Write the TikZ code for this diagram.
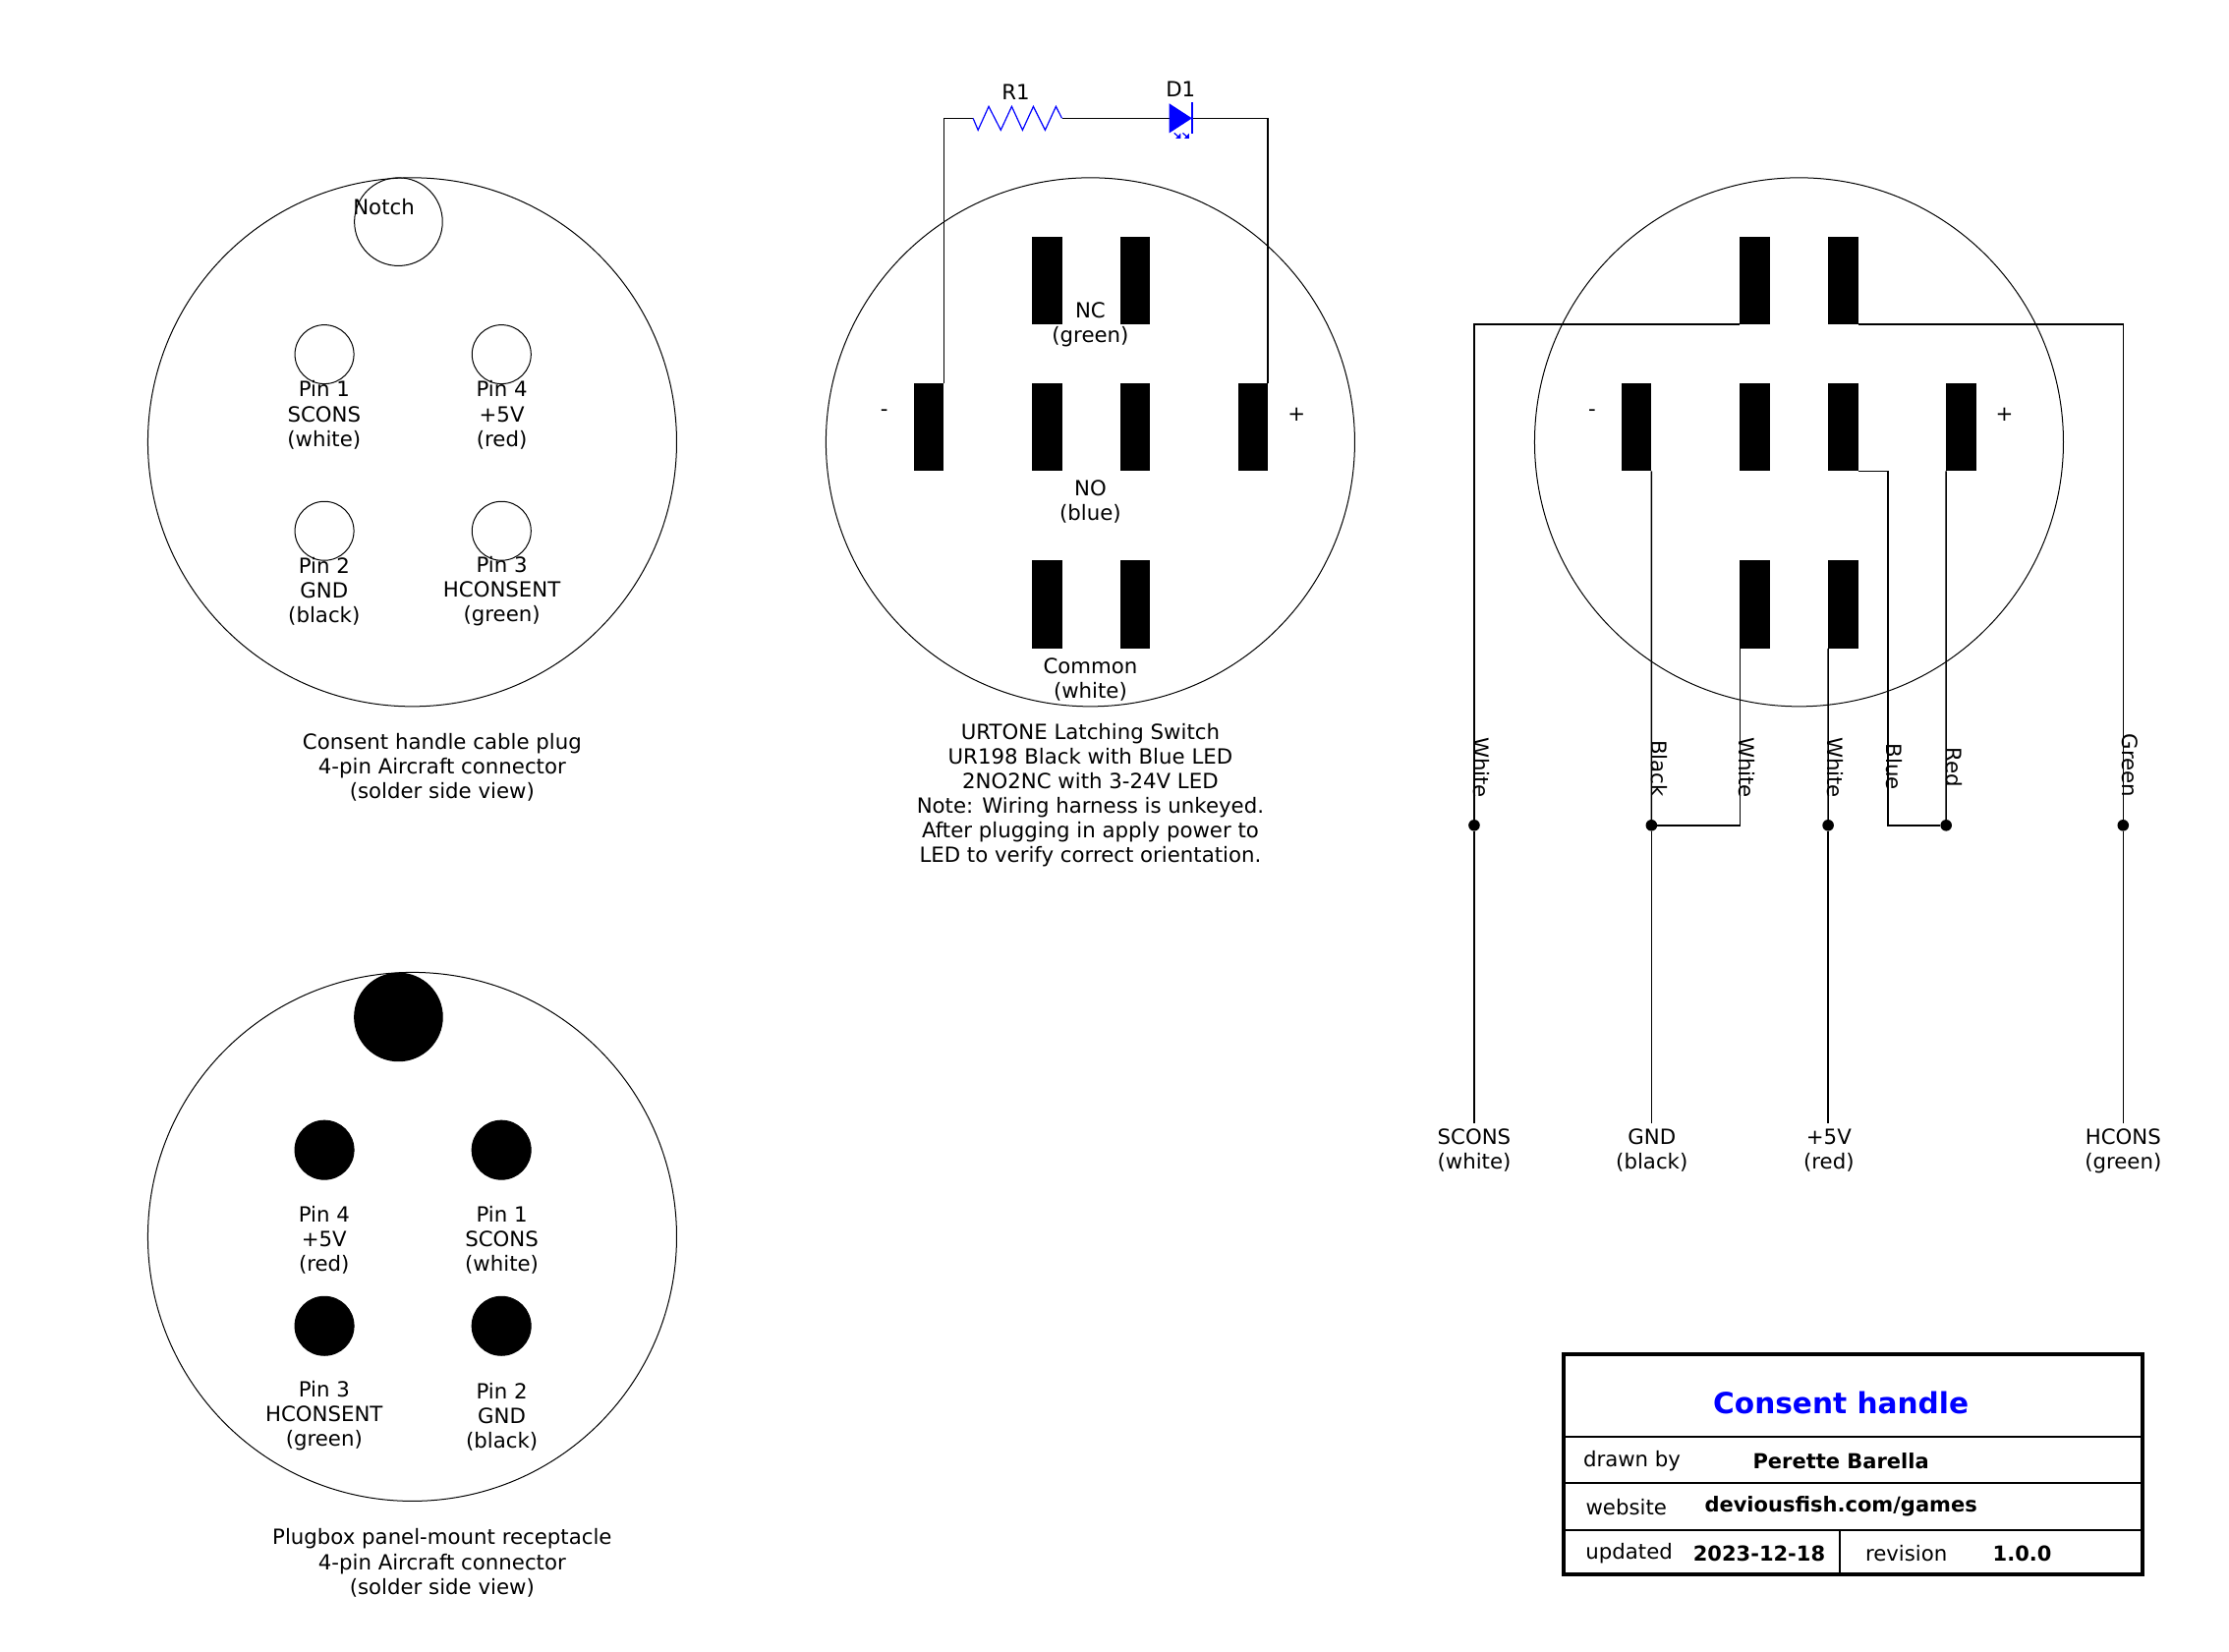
\documentclass[tikz,border=0pt]{standalone}
\usepackage{fontspec}
\setmainfont{DejaVu Sans}
\tikzset{
	connector/.style={circle, draw, line width=0.25pt, inner sep=0pt, outer sep=0pt, minimum size=134.5pt},
	notch/.style={circle, draw, line width=0.25pt, inner sep=0pt, outer sep=0pt, minimum size=22.4pt},
	hole/.style={circle, draw, line width=0.25pt, inner sep=0pt, outer sep=0pt, minimum size=15pt},
	solid notch/.style={notch, fill=black},
	solid hole/.style={hole, fill=black},
	terminal/.style={rectangle, fill=black, inner sep=0pt, outer sep=0pt, minimum width=7.6pt, minimum height=22.4pt},
	junction/.style={circle, fill=black, inner sep=0pt, outer sep=0pt, minimum size=2.9pt},
	wire/.style={line width=0.38pt},
	txt/.style={inner sep=0pt, align=center, font=\fontsize{5.32}{6.28}\selectfont},
	boldtxt/.style={txt, font=\fontsize{5.25}{6.28}\selectfont\bfseries},
	wirelabel/.style={txt, rotate=-90},
	part/.style={line width=0.3pt, blue}
}
\begin{document}
\begin{tikzpicture}[x=0.3616pt, y=-0.3616pt]
	  \useasboundingbox (0,0) rectangle (1568,1161.6);

	  \node [ connector ] (plug) at (290,311) {};
	  \node [ notch ] (plugnotch) at (280.3,156) {};
	  \node [ hole ] (plugpin1) at (228.2,249.3) {};
	  \node [ hole ] (plugpin4) at (352.8,249.3) {};
	  \node [ hole ] (plugpin2) at (228.2,373.5) {};
	  \node [ hole ] (plugpin3) at (352.8,373.5) {};
	  \node [ txt ] (plugnotchtxt) at (270,145.5) {Notch};
	  \node [ txt ] (plugpin1txt) at (228,292) {Pin 1\\SCONS\\(white)};
	  \node [ txt ] (plugpin4txt) at (353,292) {Pin 4\\+5V\\(red)};
	  \node [ txt ] (plugpin2txt) at (228,416) {Pin 2\\GND\\(black)};
	  \node [ txt ] (plugpin3txt) at (353,416) {Pin 3\\HCONSENT\\(green)};
	  \node [ txt ] (plugtxt) at (311,540) {Consent handle cable plug\\4-pin Aircraft connector\\(solder side view)};

	  \node [ connector ] (recept) at (290,870) {};
	  \node [ solid notch ] (receptnotch) at (280.3,715.5) {};
	  \node [ solid hole ] (receptpin4) at (228.2,809) {};
	  \node [ solid hole ] (receptpin1) at (352.7,809) {};
	  \node [ solid hole ] (receptpin3) at (228.2,932.8) {};
	  \node [ solid hole ] (receptpin2) at (352.7,932.8) {};
	  \node [ txt ] (receptpin4txt) at (228,872.5) {Pin 4\\+5V\\(red)};
	  \node [ txt ] (receptpin1txt) at (353,872.5) {Pin 1\\SCONS\\(white)};
	  \node [ txt ] (receptpin3txt) at (228,996) {Pin 3\\HCONSENT\\(green)};
	  \node [ txt ] (receptpin2txt) at (353,997) {Pin 2\\GND\\(black)};
	  \node [ txt ] (recepttxt) at (311,1099.5) {Plugbox panel-mount receptacle\\4-pin Aircraft connector\\(solder side view)};

	  \node [ connector ] (switch) at (767,311) {};
	  \node [ terminal ] (nc1) at (736.5,197.3) {};
	  \node [ terminal ] (nc2) at (798.7,197.3) {};
	  \node [ terminal ] (ledminus) at (653.5,300.5) {};
	  \node [ terminal ] (no1) at (736.5,300.5) {};
	  \node [ terminal ] (no2) at (798.7,300.5) {};
	  \node [ terminal ] (ledplus) at (881.5,300.5) {};
	  \node [ terminal ] (com1) at (736.5,425.3) {};
	  \node [ terminal ] (com2) at (798.7,425.3) {};
	  \node [ txt ] (nctxt) at (767,228.5) {NC\\(green)};
	  \node [ txt ] (notxt) at (767,353) {NO\\(blue)};
	  \node [ txt ] (comtxt) at (767,478) {Common\\(white)};
	  \node [ txt ] (minustxt) at (622,290.5) {-};
	  \node [ txt ] (plustxt) at (912,291.5) {+};
	  \node [ txt ] (switchtxt) at (767,559.5) {URTONE Latching Switch\\UR198 Black with Blue LED\\2NO2NC with 3-24V LED\\Note: Wiring harness is unkeyed.\\After plugging in apply power to\\LED to verify correct orientation.};

	  \coordinate (r1in) at (684.5,83.2);
	  \coordinate (r1out) at (747,83.2);
	  \coordinate (d1in) at (822.5,83.2);
	  \coordinate (d1out) at (838.5,83.2);
	  \draw [ wire ] (ledminus.north east) |- (r1in);
	  \draw [ wire ] (r1out) -- (d1in);
	  \draw [ wire ] (d1out) -| (ledplus.north east);
	  \draw [ part ] (r1in) -- (688,91.5) -- (695.5,74.9) -- (704,91.5) -- (711.7,74.9) -- (719.3,91.5) -- (726.9,74.9) -- (735.2,91.5) -- (742.8,74.9) -- (r1out);
	  \fill [ blue ] (822.5,72.8) -- (d1out) -- (822.5,93.6) -- cycle;
	  \draw [ blue, line width=0.45pt ] (838.8,72) -- (838.8,94);
	  \draw [ blue, line width=0.3pt ] (826,93.6) -- (829.5,96.6);
	  \fill [ blue ] (830.5,97.4) -- (830.5,93.8) -- (827,97.4) -- cycle;
	  \draw [ blue, line width=0.3pt ] (832,93.6) -- (835.5,96.6);
	  \fill [ blue ] (836.5,97.4) -- (836.5,93.8) -- (833,97.4) -- cycle;
	  \node [ txt ] (r1txt) at (714.5,65) {R1};
	  \node [ txt ] (d1txt) at (830.5,63) {D1};

	  \node [ connector ] (harness) at (1265.5,311) {};
	  \node [ terminal ] (ht1) at (1234.5,197.3) {};
	  \node [ terminal ] (ht2) at (1296.5,197.3) {};
	  \node [ terminal ] (hm1) at (1151.2,300.5) {};
	  \node [ terminal ] (hm2) at (1234.5,300.5) {};
	  \node [ terminal ] (hm3) at (1296.5,300.5) {};
	  \node [ terminal ] (hm4) at (1379.5,300.5) {};
	  \node [ terminal ] (hb1) at (1234.5,425.3) {};
	  \node [ terminal ] (hb2) at (1296.5,425.3) {};
	  \node [ txt ] (hminustxt) at (1120,290.5) {-};
	  \node [ txt ] (hplustxt) at (1410,291.5) {+};

	  \node [ junction ] (jscons) at (1037,580.6) {};
	  \node [ junction ] (jgnd) at (1161.71,580.6) {};
	  \node [ junction ] (jfive) at (1285.99,580.6) {};
	  \node [ junction ] (jred) at (1368.99,580.6) {};
	  \node [ junction ] (jhcons) at (1493.5,580.6) {};
	  \coordinate (endscons) at (1037,790);
	  \coordinate (endgnd) at (1161.71,790);
	  \coordinate (endfive) at (1285.99,790);
	  \coordinate (endhcons) at (1493.5,790);
	  \coordinate (bluebend) at (1328,331.5);

	  \draw [ wire ] (ht1.south west) -| (jscons);
	  \draw [ wire ] (jscons) -- (endscons);
	  \draw [ wire ] (ht2.south east) -| (jhcons);
	  \draw [ wire ] (jhcons) -- (endhcons);
	  \draw [ wire ] (hm1.south east) -- (jgnd);
	  \draw [ wire ] (jgnd) -- (endgnd);
	  \draw [ wire ] (hb1.south west) |- (jgnd);
	  \draw [ wire ] (hb2.south west) -- (jfive);
	  \draw [ wire ] (jfive) -- (endfive);
	  \draw [ wire ] (hm3.south east) -| (bluebend);
	  \draw [ wire ] (bluebend) |- (jred);
	  \draw [ wire ] (hm4.south west) -- (jred);

	  \node [ wirelabel ] (lwhite1) at (1042,540) {White};
	  \node [ wirelabel ] (lblack) at (1167,540.5) {Black};
	  \node [ wirelabel ] (lwhite2) at (1229,540) {White};
	  \node [ wirelabel ] (lwhite3) at (1291,540) {White};
	  \node [ wirelabel ] (lblue) at (1332.5,539.5) {Blue};
	  \node [ wirelabel ] (lred) at (1374.5,539.5) {Red};
	  \node [ wirelabel ] (lgreen) at (1498.5,538.5) {Green};

	  \node [ txt ] (sconstxt) at (1037,809.5) {SCONS\\(white)};
	  \node [ txt ] (gndtxt) at (1162,809.5) {GND\\(black)};
	  \node [ txt ] (fivetxt) at (1286.5,809.5) {+5V\\(red)};
	  \node [ txt ] (hconstxt) at (1493.5,809.5) {HCONS\\(green)};

	  \draw [ line width=1pt ] (1100,952.5) rectangle (1507,1107.5);
	  \draw [ line width=0.45pt ] (1100,1011)--(1507,1011);
	  \draw [ line width=0.45pt ] (1100,1043)--(1507,1043);
	  \draw [ line width=0.45pt ] (1100,1076.5)--(1507,1076.5);
	  \draw [ line width=0.45pt ] (1294,1076.5)--(1294,1107.5);
	  \node [ txt, font=\fontsize{7.4}{8.8}\selectfont\bfseries, text=blue ] (title) at (1295,987) {Consent handle};
	  \node [ txt ] (drawnlabel) at (1148,1028) {drawn by};
	  \node [ boldtxt ] (drawntxt) at (1295,1028) {Perette Barella};
	  \node [ txt ] (weblabel) at (1144,1060) {website};
	  \node [ boldtxt ] (webtxt) at (1295,1059.5) {deviousfish.com/games};
	  \node [ txt ] (updatedlabel) at (1146,1092.5) {updated};
	  \node [ boldtxt ] (updatedtxt) at (1237.5,1093) {2023-12-18};
	  \node [ txt ] (revlabel) at (1341,1093) {revision};
	  \node [ boldtxt ] (revtxt) at (1422.5,1093) {1.0.0};
\end{tikzpicture}
\end{document}
